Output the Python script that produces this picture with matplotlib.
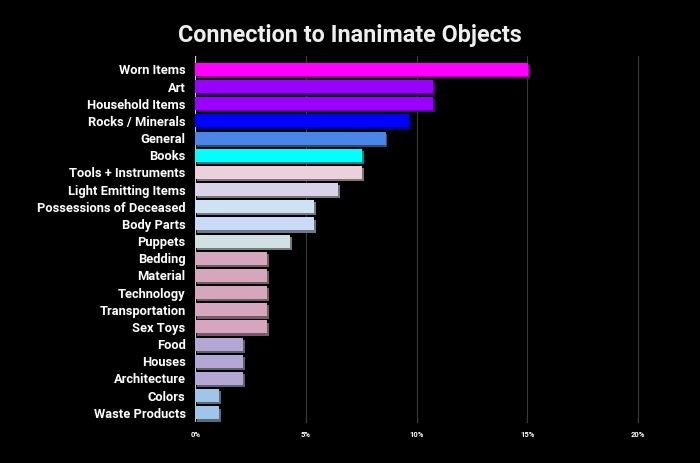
import matplotlib.pyplot as plt
import matplotlib.patheffects as pe

categories = ['Worn Items', 'Art', 'Household Items', 'Rocks / Minerals', 'General',
              'Books', 'Tools + Instruments', 'Light Emitting Items',
              'Possessions of Deceased', 'Body Parts', 'Puppets', 'Bedding',
              'Material', 'Technology', 'Transportation', 'Sex Toys', 'Food',
              'Houses', 'Architecture', 'Colors', 'Waste Products']
values = [15.05, 10.75, 10.75, 9.68, 8.60, 7.53, 7.53, 6.45, 5.38, 5.38, 4.30,
          3.23, 3.23, 3.23, 3.23, 3.23, 2.15, 2.15, 2.15, 1.08, 1.08]
colors = ['#ff00ff', '#9900ff', '#9900ff', '#0000ff', '#4a86e8', '#00ffff',
          '#ead1dc', '#d9d2e9', '#cfe2f3', '#c9daf8', '#d0e0e3',
          '#d5a6bd', '#d5a6bd', '#d5a6bd', '#d5a6bd', '#d5a6bd',
          '#b4a7d6', '#b4a7d6', '#b4a7d6', '#9fc5e8', '#9fc5e8']
ticks = [0, 5, 10, 15, 20]
tick_labels = ['0%', '5%', '10%', '15%', '20%']

plt.rcParams['font.family'] = ['Roboto', 'DejaVu Sans']

fig = plt.figure(figsize=(7, 4.63), dpi=100, facecolor='black')
ax = fig.add_axes([0.279, 0.088, 0.632, 0.79])
ax.set_facecolor('black')

y = list(range(len(categories)))
bars = ax.barh(y, values, height=0.76, color=colors, zorder=3)
for b in bars:
    b.set_path_effects([pe.SimplePatchShadow(offset=(1.3, -1.6), alpha=1.0, rho=0.55),
                        pe.Normal()])

ax.set_ylim(len(categories) - 0.45, -0.75)
ax.set_xlim(0, 20)
ax.set_yticks(y)
ax.set_yticklabels(categories, color='white', fontsize=9.3, fontweight='bold')
ax.set_xticks(ticks)
ax.set_xticklabels(tick_labels, color='white', fontsize=5.5, fontweight='bold')
ax.tick_params(length=0)
ax.tick_params(axis='x', pad=6)
ax.tick_params(axis='y', pad=7)

for t in ticks[1:]:
    ax.axvline(t, color='#3a3a3a', linewidth=0.8, zorder=1, clip_on=False)
ax.axvline(0, color='#cccccc', linewidth=1.6, zorder=2)

for s in ax.spines.values():
    s.set_visible(False)

fig.text(0.5, 0.923, 'Connection to Inanimate Objects', ha='center', va='center',
         color='#eeeeee', fontsize=16.8, fontweight='bold')

fig.savefig('out.png', facecolor='black')
